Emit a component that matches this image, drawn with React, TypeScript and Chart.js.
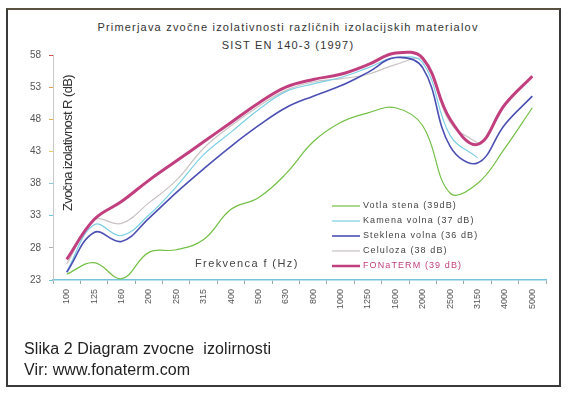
import React, { useEffect, useRef } from "react";
import { Chart, registerables } from "chart.js";

Chart.register(...registerables);

// ---- data ----
const categories = ["100", "125", "160", "200", "250", "315", "400", "500", "630", "800", "1000", "1250", "1600", "2000", "2500", "3150", "4000", "5000"];
const votlaStena = [23.9, 25.7, 23.2, 27.3, 27.7, 29.3, 34.0, 35.8, 39.5, 44.5, 47.5, 49.0, 49.8, 47.0, 36.5, 38.0, 43.5, 49.8];
const kamenaVolna = [24.3, 31.6, 29.9, 33.1, 37.5, 42.5, 46.0, 49.5, 52.3, 53.5, 54.5, 56.0, 57.6, 56.8, 45.5, 42.0, null, null];
const steklenaVolna = [24.2, 30.4, 29.0, 32.6, 36.6, 40.3, 43.8, 47.0, 49.8, 51.6, 53.2, 55.3, 57.6, 56.0, 43.8, 41.2, 47.2, 51.6];
const celuloza = [25.5, 32.3, 31.8, 35.0, 38.5, 43.5, 47.0, 50.0, 52.5, 53.8, 54.3, 55.0, 56.5, 57.3, 47.5, 44.3, null, null];
const fonaterm = [26.2, 32.4, 35.2, 38.5, 41.5, 44.5, 47.5, 50.5, 53.0, 54.2, 55.0, 56.5, 58.3, 57.5, 48.0, 44.1, 50.3, 54.7];
const seriesLabels = ["Votla stena (39dB)", "Kamena volna (37 dB)", "Steklena volna (36 dB)", "Celuloza (38 dB)", "FONaTERM (39 dB)"];
const yMin = 23;
const yMax = 58;
const yStep = 5;
const titleLines = ["Primerjava zvočne izolativnosti različnih izolacijskih materialov", "SIST EN 140-3 (1997)"];
const yTitle = "Zvočna izolativnost R (dB)";
const xTitle = "Frekvenca f (Hz)";
const captionLines = ["Slika 2 Diagram zvocne  izolirnosti", "Vir: www.fonaterm.com"];

// ---- styles ----
const seriesColors = ["#74bf45", "#7ccfe4", "#4b4fb3", "#c9c2c2", "#c23f7f"];
const seriesWidths = [1.2, 1.2, 1.6, 1.2, 3];
const legendTextColors = ["#444", "#444", "#444", "#444", "#c23f7f"];
const drawOrder = [4, 2, 1, 3, 0];
const yTickColors = ["#6cc6dc", "#b0b0b0", "#6cc6dc", "#8ccde0", "#e8d060", "#e8b050", "#e0a050", "#d05050"];
const FONT = "'Liberation Sans', Arial, sans-serif";

const overlayPlugin = {
  id: "overlay",
  afterDraw(chart: any) {
    const ctx = chart.ctx as CanvasRenderingContext2D;
    // y-axis title (drawn inside the plot, as in the reference)
    ctx.save();
    ctx.font = `13px ${FONT}`;
    (ctx as any).letterSpacing = "-0.6px";
    ctx.fillStyle = "#333";
    ctx.translate(68, 143);
    ctx.rotate(-Math.PI / 2);
    ctx.textAlign = "center";
    ctx.textBaseline = "middle";
    ctx.fillText(yTitle, 0, 0);
    ctx.restore();

    // x-axis title
    ctx.save();
    ctx.font = `11px ${FONT}`;
    (ctx as any).letterSpacing = "1.4px";
    ctx.fillStyle = "#444";
    ctx.textAlign = "left";
    ctx.textBaseline = "middle";
    ctx.fillText(xTitle, 195, 264);
    ctx.restore();

    // legend
    ctx.save();
    ctx.font = `9px ${FONT}`;
    (ctx as any).letterSpacing = "1.1px";
    ctx.textAlign = "left";
    ctx.textBaseline = "middle";
    chart.data.datasets.forEach((ds: any, i: number) => {
      const y = 206 + i * 15;
      ctx.strokeStyle = ds.borderColor;
      ctx.lineWidth = Math.min(ds.borderWidth, 2.5);
      ctx.beginPath();
      ctx.moveTo(332, y);
      ctx.lineTo(360, y);
      ctx.stroke();
      ctx.fillStyle = legendTextColors[i];
      ctx.fillText(ds.label, 363, y);
    });
    ctx.restore();
  },
};

export default function App() {
  const canvasRef = useRef<HTMLCanvasElement>(null);

  useEffect(() => {
    const series = [votlaStena, kamenaVolna, steklenaVolna, celuloza, fonaterm];
    const chart = new Chart(canvasRef.current!, {
      type: "line",
      data: {
        labels: categories,
        datasets: series.map((d, i) => ({
          label: seriesLabels[i],
          data: d,
          borderColor: seriesColors[i],
          backgroundColor: seriesColors[i],
          borderWidth: seriesWidths[i],
          pointRadius: 0,
          tension: 0.4,
          fill: false,
          clip: false,
          order: drawOrder[i],
        })),
      },
      options: {
        responsive: false,
        devicePixelRatio: 1,
        animation: false,
        layout: { padding: { top: 55, left: 0, right: 23, bottom: 74 } },
        plugins: {
          legend: { display: false },
          title: { display: false },
          tooltip: { enabled: false },
        },
        scales: {
          x: {
            type: "category",
            offset: true,
            afterFit: (s: any) => {
              s.height = 40;
            },
            grid: {
              drawOnChartArea: false,
              drawTicks: true,
              tickLength: 4,
              offset: true,
              color: "#9aa",
            },
            border: { display: true, color: "#74c4dc", width: 1.5 },
            ticks: {
              autoSkip: false,
              minRotation: 90,
              maxRotation: 90,
              padding: 5,
              color: "#555",
              font: { family: FONT, size: 9 },
            },
          },
          y: {
            min: yMin,
            max: yMax,
            afterFit: (s: any) => {
              s.width = 53;
            },
            grid: {
              drawOnChartArea: false,
              drawTicks: true,
              tickLength: 4,
              tickColor: (c: any) => yTickColors[c.index % yTickColors.length],
            },
            border: { display: true, color: "#c8c8c8", width: 1 },
            ticks: {
              stepSize: yStep,
              padding: 8,
              color: "#555",
              font: { family: FONT, size: 10 },
            },
          },
        },
      },
      plugins: [overlayPlugin],
    });
    return () => chart.destroy();
  }, []);

  return (
    <div style={{ position: "absolute", left: 0, top: 0, width: 569, height: 394, background: "#fff", overflow: "hidden" }}>
      <div
        style={{
          position: "absolute",
          left: 6,
          top: 8,
          width: 551,
          height: 375,
          border: "2px solid #3a3a3a",
          borderTopColor: "#5a5040",
        }}
      />
      <div
        style={{
          position: "absolute",
          left: 0,
          top: 18,
          width: 576,
          textAlign: "center",
          fontFamily: FONT,
          fontSize: 11,
          lineHeight: "18px",
          letterSpacing: "1.2px",
          color: "#333",
        }}
      >
        {titleLines.map((t) => (
          <div key={t}>{t}</div>
        ))}
      </div>
      <canvas ref={canvasRef} width={569} height={394} style={{ position: "absolute", left: 0, top: 0 }} />
      <div
        style={{
          position: "absolute",
          left: 24,
          top: 338,
          fontFamily: FONT,
          fontSize: 16,
          lineHeight: "21px",
          letterSpacing: "0.1px",
          color: "#222",
          whiteSpace: "pre",
        }}
      >
        {captionLines.map((t) => (
          <div key={t}>{t}</div>
        ))}
      </div>
    </div>
  );
}
